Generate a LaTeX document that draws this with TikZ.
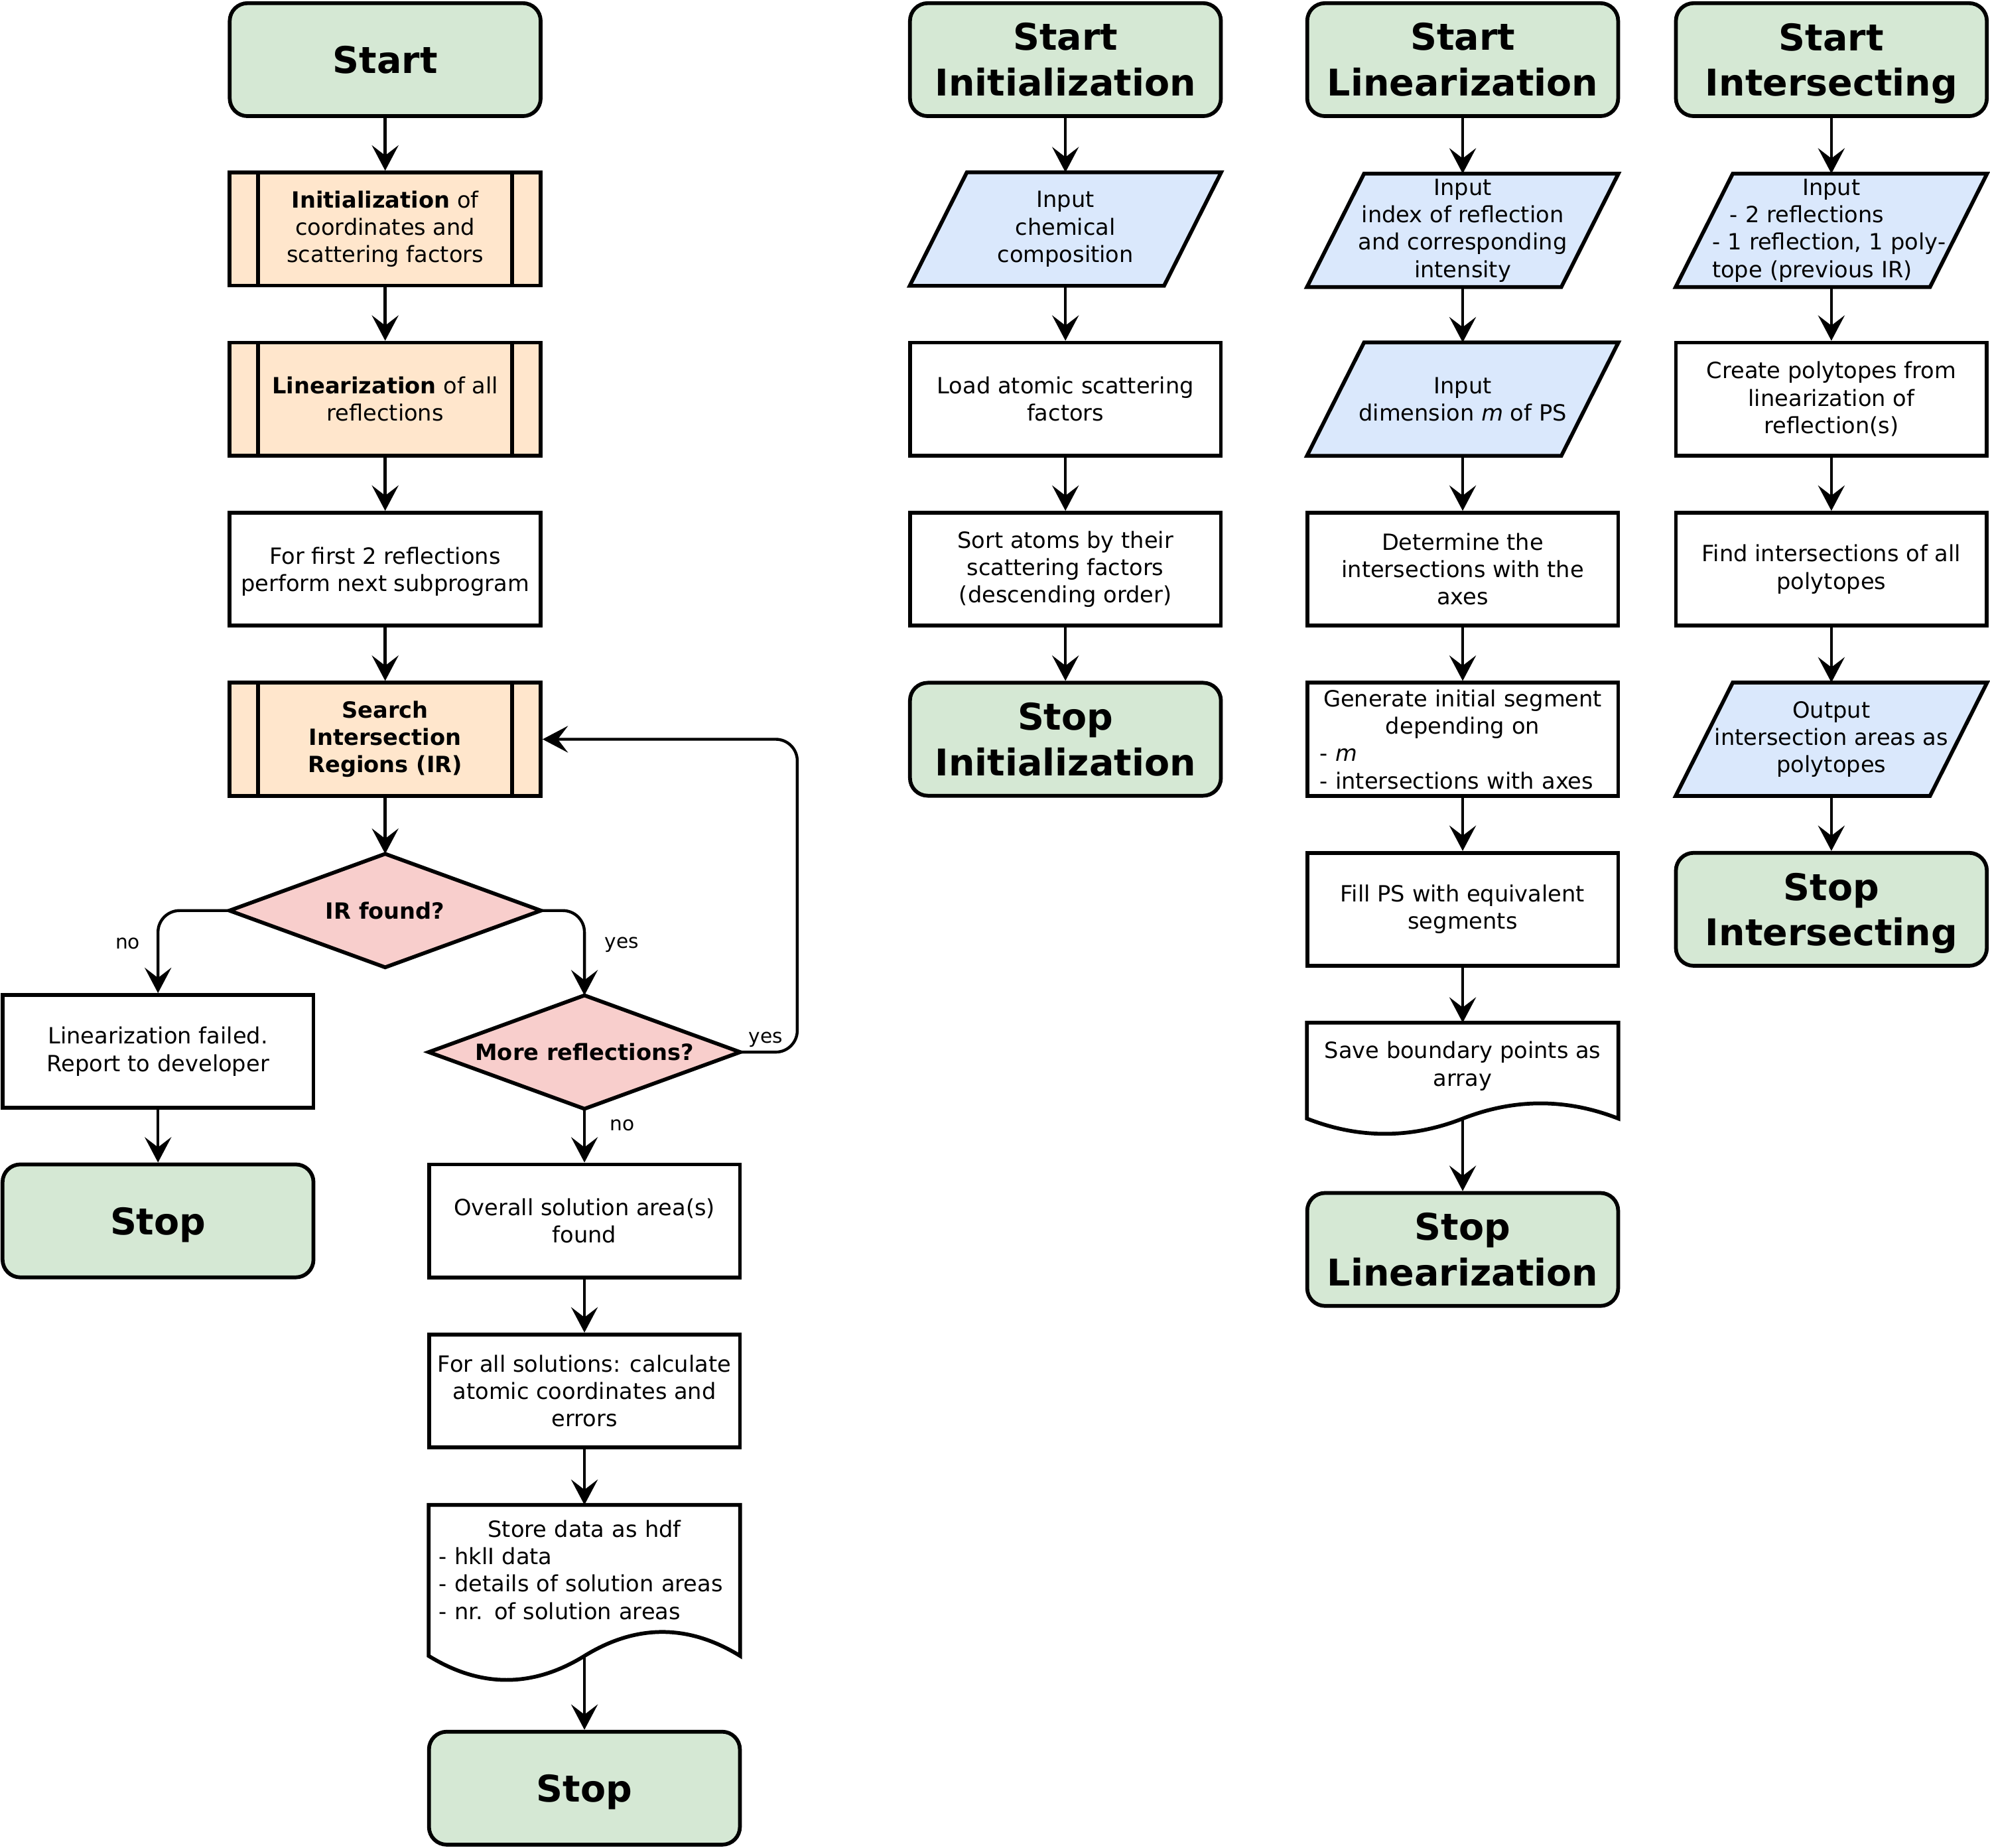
\documentclass[tikz,border=0pt]{standalone}
\usepackage{fontspec}
\setmainfont{DejaVu Sans}
\usetikzlibrary{arrows.meta,calc}
\definecolor{cgreen}{HTML}{D5E8D4}
\definecolor{corange}{HTML}{FFE6CC}
\definecolor{cblue}{HTML}{DAE8FC}
\definecolor{cpink}{HTML}{F8CECC}
\newcommand\nodesc[1]{\raisebox{0pt}[\height][0pt]{#1}}
\pgfdeclarelayer{background}
\pgfsetlayers{background,main}
\tikzset{
  txt/.style={font=\fontsize{17.6}{21.6}\selectfont},
  btxt/.style={font=\fontsize{17.6}{21.6}\selectfont\bfseries},
  box/.style={rectangle, draw=black, line width=3pt, minimum width=245pt, minimum height=89pt,
    inner sep=0pt, align=center, fill=white, txt},
  term/.style={box, rounded corners=14pt, fill=cgreen, font=\fontsize{29}{36}\selectfont\bfseries},
  subproc/.style={box, fill=corange},
  bare/.style={rectangle, minimum width=245pt, minimum height=89pt, inner sep=0pt, align=center, txt},
  outl/.style={draw=black, line width=3pt},
  arr/.style={-{Stealth[length=20pt,width=21pt,inset=8pt]}, line width=2.3pt, rounded corners=17pt},
  lbl/.style={font=\fontsize{15.5}{18}\selectfont, inner ysep=3pt},
}
\begin{document}
\begin{tikzpicture}[x=1pt,y=-1pt]
\useasboundingbox (0,0) rectangle (1568,1456);

% ---------- column 1: main program ----------
\node[term] (a1) at (303.5,47) {Start};
\node[subproc] (a2) at (303.5,180.5) {\textbf{Initialization} of\\coordinates and\\scattering factors};
\node[subproc] (a3) at (303.5,314.5) {\textbf{Linearization} of all\\reflections};
\node[box] (a4) at (303.5,448.5) {For first 2 reflections\\\nodesc{perform next subprogram}};
\node[subproc, btxt] (a5) at (303.5,582.5) {Search\\Intersection\\Regions (IR)};
\node[bare, btxt] (a6) at (303.5,717.5) {IR found?};
\node[box] (b1) at (124.5,828.5) {Linearization failed.\\Report to developer};
\node[term] (b2) at (124.5,962) {\nodesc{Stop}};
\node[bare, btxt] (c1) at (460.5,829) {More reflections?};
\node[box] (c2) at (460.5,962) {Overall solution area(s)\\found};
\node[box] (c3) at (460.5,1096) {For all solutions: calculate\\atomic coordinates and\\errors};
\node[bare, minimum height=102pt, text width=229pt, align=left] (c4) at (460.5,1237)
  {\makebox[\linewidth][c]{Store data as hdf}\\- hklI data\\- details of solution areas\\- nr. of solution areas};
\coordinate (c4b) at ($(c4.north)+(0,119)$);
\node[term] (c5) at (460.5,1409) {\nodesc{Stop}};

% ---------- column 2: initialization ----------
\node[term] (d1) at (839.5,47) {Start\\Initialization};
\node[bare] (d2) at (839.5,180.5) {Input\\chemical\\composition};
\node[box] (d3) at (839.5,314.5) {Load atomic scattering\\factors};
\node[box] (d4) at (839.5,448.5) {Sort atoms by their\\scattering factors\\(descending order)};
\node[term] (d5) at (839.5,582.5) {Stop\\Initialization};

% ---------- column 3: linearization ----------
\node[term] (e1) at (1152.5,47) {Start\\Linearization};
\node[bare] (e2) at (1152.5,181.5) {Input\\index of reflection\\and corresponding\\intensity};
\node[bare] (e3) at (1152.5,314.5) {Input\\dimension \textit{m} of PS};
\node[box] (e4) at (1152.5,448.5) {Determine the\\intersections with the\\axes};
\node[box, text width=225pt, align=left] (e5) at (1152.5,582.5)
  {\makebox[\linewidth][c]{Generate initial segment}\\\makebox[\linewidth][c]{depending on}\\- \textit{m}\\- intersections with axes};
\node[box] (e6) at (1152.5,716.5) {Fill PS with equivalent\\segments};
\node[bare, minimum height=68pt] (e7) at (1152.5,840) {Save boundary points as\\array};
\coordinate (e7b) at ($(e7.north)+(0,75.6)$);
\node[term] (e8) at (1152.5,984.5) {Stop\\Linearization};

% ---------- column 4: intersecting ----------
\node[term] (f1) at (1443,47) {Start\\\nodesc{Intersecting}};
\node[bare, text width=188pt, align=left] (f2) at (1443,181.5)
  {\makebox[\linewidth][c]{Input}\\\hspace*{14pt}- 2 reflections\\- 1 reflection, 1 poly-\\tope (previous IR)};
\node[box] (f3) at (1443,314.5) {Create polytopes from\\linearization of\\reflection(s)};
\node[box] (f4) at (1443,448.5) {Find intersections of all\\polytopes};
\node[bare] (f5) at (1443,582.5) {Output\\intersection areas as\\polytopes};
\node[term] (f6) at (1443,716.5) {Stop\\\nodesc{Intersecting}};

% ---------- shapes drawn behind the texts ----------
\begin{pgfonlayer}{background}
  \foreach \n in {a6,c1}
    \draw[outl, fill=cpink] (\n.west) -- (\n.north) -- (\n.east) -- (\n.south) -- cycle;
  \foreach \n in {d2,e2,e3,f2,f5}
    \draw[outl, fill=cblue] ($(\n.north west)+(45,0)$) -- (\n.north east)
      -- ($(\n.south east)+(-45,0)$) -- (\n.south west) -- cycle;
  % document shapes
  \draw[outl, fill=white] (c4.north west) -- (c4.north east) -- ($(c4.north east)+(0,119)$)
    .. controls ($(c4.north east)+(-40.83,119-25.2)$) and ($(c4.north)+(40.83,119-25.2)$) .. ($(c4.north)+(0,119)$)
    .. controls ($(c4.north)+(-40.83,119+25.2)$) and ($(c4.north west)+(40.83,119+25.2)$) .. ($(c4.north west)+(0,119)$)
    -- cycle;
  \draw[outl, fill=white] (e7.north west) -- (e7.north east) -- ($(e7.north east)+(0,75.6)$)
    .. controls ($(e7.north east)+(-40.83,75.6-16)$) and ($(e7.north)+(40.83,75.6-16)$) .. ($(e7.north)+(0,75.6)$)
    .. controls ($(e7.north)+(-40.83,75.6+16)$) and ($(e7.north west)+(40.83,75.6+16)$) .. ($(e7.north west)+(0,75.6)$)
    -- cycle;
\end{pgfonlayer}

% subprocess inner bars
\foreach \n in {a2,a3,a5}{
  \draw[outl] ($(\n.north west)+(24,0)$) -- ($(\n.south west)+(24,0)$);
  \draw[outl] ($(\n.north east)+(-24,0)$) -- ($(\n.south east)+(-24,0)$);
}

% ---------- connectors ----------
\draw[arr] (a1) -- (a2);
\draw[arr] (a2) -- (a3);
\draw[arr] (a3) -- (a4);
\draw[arr] (a4) -- (a5);
\draw[arr] (a5) -- (a6);
\draw[arr] (a6.west) -| node[lbl, pos=0.7, left, inner xsep=13pt] {no} (b1.north);
\draw[arr] (a6.east) -| node[lbl, pos=0.7, right, inner xsep=15pt] {yes} (c1.north);
\draw[arr] (b1) -- (b2);
\draw[arr] (c1.east) -- node[lbl, above, pos=0.45] {yes} ++(45,0) |- (a5.east);
\draw[arr] (c1.south) -- node[lbl, right, pos=0.3, inner xsep=19pt] {no} (c2.north);
\draw[arr] (c2) -- (c3);
\draw[arr] (c3) -- (c4.north);
\draw[arr] (c4b) -- (c5.north);

\draw[arr] (d1) -- (d2);
\draw[arr] (d2) -- (d3);
\draw[arr] (d3) -- (d4);
\draw[arr] (d4) -- (d5);

\draw[arr] (e1) -- (e2);
\draw[arr] (e2) -- (e3);
\draw[arr] (e3) -- (e4);
\draw[arr] (e4) -- (e5);
\draw[arr] (e5) -- (e6);
\draw[arr] (e6) -- (e7.north);
\draw[arr] (e7b) -- (e8.north);

\draw[arr] (f1) -- (f2);
\draw[arr] (f2) -- (f3);
\draw[arr] (f3) -- (f4);
\draw[arr] (f4) -- (f5);
\draw[arr] (f5) -- (f6);
\end{tikzpicture}
\end{document}
